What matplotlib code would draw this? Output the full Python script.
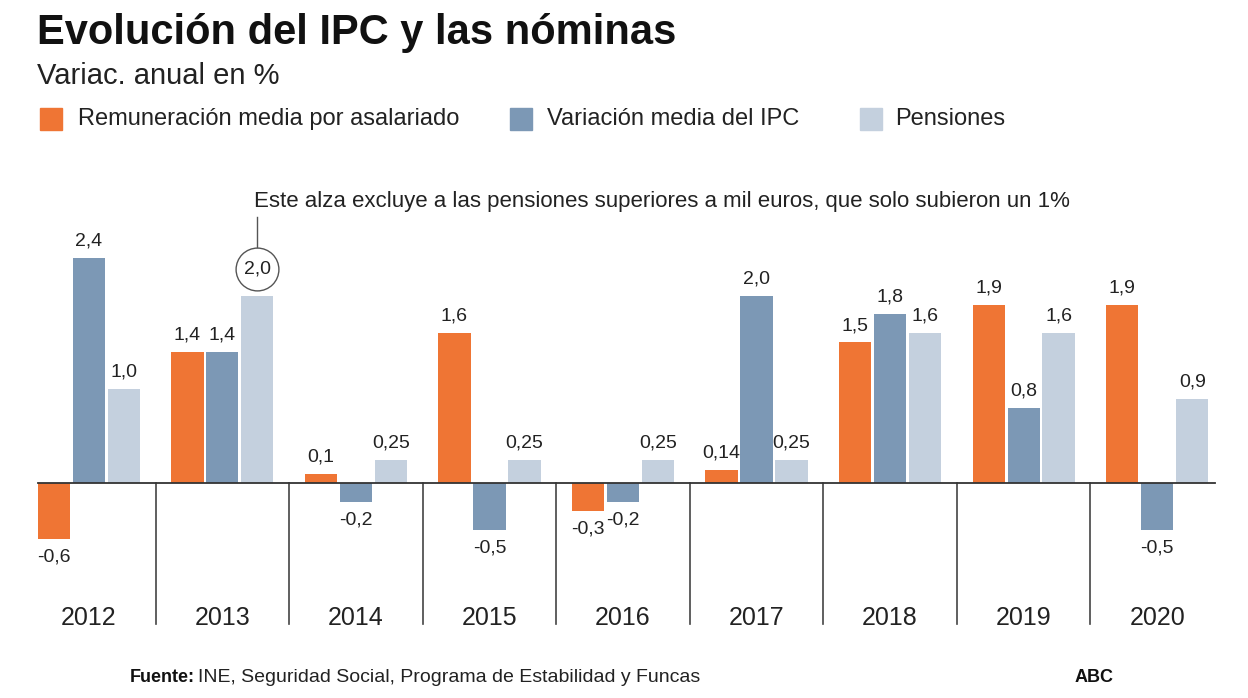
import matplotlib.pyplot as plt
import numpy as np

plt.rcParams['font.family'] = ['Liberation Sans', 'DejaVu Sans']

years = ['2012', '2013', '2014', '2015', '2016', '2017', '2018', '2019', '2020']
remuneracion = [-0.6, 1.4, 0.1, 1.6, -0.3, 0.14, 1.5, 1.9, 1.9]
ipc = [2.4, 1.4, -0.2, -0.5, -0.2, 2.0, 1.8, 0.8, -0.5]
pensiones = [1.0, 2.0, 0.25, 0.25, 0.25, 0.25, 1.6, 1.6, 0.9]

rem_labels = ['-0,6', '1,4', '0,1', '1,6', '-0,3', '0,14', '1,5', '1,9', '1,9']
ipc_labels = ['2,4', '1,4', '-0,2', '-0,5', '-0,2', '2,0', '1,8', '0,8', '-0,5']
pen_labels = ['1,0', '2,0', '0,25', '0,25', '0,25', '0,25', '1,6', '1,6', '0,9']

c_rem = '#EF7534'
c_ipc = '#7C98B5'
c_pen = '#C4D0DE'

W, H = 1248, 698
fig = plt.figure(figsize=(W / 100, H / 100), dpi=100)
fig.patch.set_facecolor('white')

# axes placed in pixels: x from 22 to 1224, y from 200 (top) to 640 (bottom)
ax = fig.add_axes([22 / W, 1 - 640 / H, (1224 - 22) / W, 440 / H])
px_per_unit = 93.75
ax.set_xlim(-0.5, len(years) - 0.5)
ax.set_ylim(-(640 - 483) / px_per_unit, (483 - 200) / px_per_unit)
ax.axis('off')

x = np.arange(len(years))
step = 0.262
bw = 0.242

series = [(remuneracion, rem_labels, c_rem, -step),
          (ipc, ipc_labels, c_ipc, 0),
          (pensiones, pen_labels, c_pen, step)]

for vals, labs, col, off in series:
    ax.bar(x + off, vals, width=bw, color=col, zorder=2)
    for i, (v, lab) in enumerate(zip(vals, labs)):
        if i == 1 and col == c_pen:
            continue  # circled label drawn separately
        if v >= 0:
            ax.annotate(lab, (x[i] + off, v), xytext=(0, 6), textcoords='offset points',
                        ha='center', va='bottom', fontsize=14, color='#222222')
        else:
            ax.annotate(lab, (x[i] + off, v), xytext=(0, -7), textcoords='offset points',
                        ha='center', va='top', fontsize=14, color='#222222')

# baseline
ax.plot([x[0] - step - bw / 2, x[-1] + step + bw / 2 + 0.05], [0, 0], color='#333333', lw=1.3, zorder=3)

# separators between years
for i in range(len(years) - 1):
    ax.plot([i + 0.5, i + 0.5], [0, -1.5], color='#444444', lw=1.2)

for i, y in enumerate(years):
    ax.text(x[i], -1.44, y, ha='center', va='center', fontsize=18, color='#222222')

# circled 2,0 and annotation
cx = x[1] + step
cy = pensiones[1] + 0.28
ax.scatter([cx], [cy], s=950, facecolors='white', edgecolors='#555555', linewidths=1.0, zorder=4)
ax.text(cx, cy, pen_labels[1], ha='center', va='center', fontsize=14, color='#222222', zorder=5)
ax.plot([cx, cx], [cy + 0.22, cy + 0.56], color='#555555', lw=1.0)
ax.text(cx - 0.025, cy + 0.72, 'Este alza excluye a las pensiones superiores a mil euros, que solo subieron un 1%',
        ha='left', va='center', fontsize=16, color='#222222')

# titles
fig.text(37 / W, 1 - 33 / H, 'Evolución del IPC y las nóminas', fontsize=30, fontweight='bold',
         ha='left', va='center', color='#111111')
fig.text(37 / W, 1 - 76 / H, 'Variac. anual en %', fontsize=21, ha='left', va='center', color='#222222')

# legend
legend_items = [('Remuneración media por asalariado', c_rem, 40, 78),
                ('Variación media del IPC', c_ipc, 510, 547),
                ('Pensiones', c_pen, 860, 895)]
for lab, col, sx, tx in legend_items:
    fig.patches.append(plt.Rectangle((sx / W, 1 - 130 / H), 22 / W, 22 / H, color=col,
                                     transform=fig.transFigure, figure=fig))
    fig.text(tx / W, 1 - 119 / H, lab, fontsize=17, ha='left', va='center', color='#222222')

# footer
fig.text(130 / W, 1 - 677 / H, 'Fuente:', fontsize=13, fontweight='bold', ha='left', va='center', color='#111111')
fig.text(198 / W, 1 - 677 / H, 'INE, Seguridad Social, Programa de Estabilidad y Funcas', fontsize=14,
         ha='left', va='center', color='#222222')
fig.text(1075 / W, 1 - 677 / H, 'ABC', fontsize=13, fontweight='bold', ha='left', va='center', color='#111111')

fig.savefig('out.png', dpi=100)
